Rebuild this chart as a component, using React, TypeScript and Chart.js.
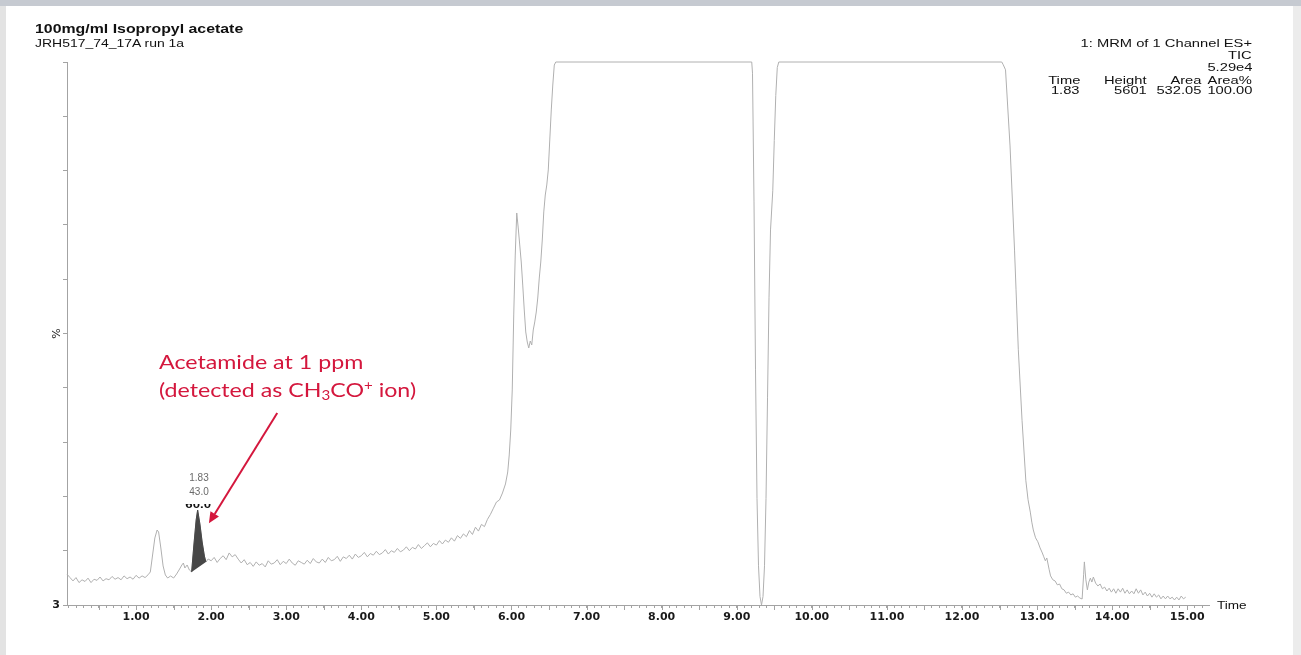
import React, { useEffect, useRef } from 'react';
import { Chart, registerables } from 'chart.js';

Chart.register(...registerables);

// ---------- texts ----------
const TITLE = '100mg/ml Isopropyl acetate';
const SUBTITLE = 'JRH517_74_17A run 1a';
const HEADER_LINES = ['1: MRM of 1 Channel ES+', 'TIC', '5.29e4'];
const TABLE_HEAD = ['Time', 'Height', 'Area', 'Area%'];
const TABLE_ROW = ['1.83', '5601', '532.05', '100.00'];
const PEAK_LABELS = ['1.83', '43.0', '60.0'];
const ANNOT_LINE1 = 'Acetamide at 1 ppm';
const X_TITLE = 'Time';
const Y_TITLE = '%';

// ---------- axes ----------
const X_MIN = 0.08;
const X_MAX = 15.29;
const Y_MIN = 3;
const Y_MAX = 100;
const xLabelledTicks = [1, 2, 3, 4, 5, 6, 7, 8, 9, 10, 11, 12, 13, 14, 15];
const yTickValues = [3, 12.7, 22.4, 32.1, 41.8, 51.5, 61.2, 70.9, 80.6, 90.3, 100];
const yLabelledTicks = [3];

// ---------- data (retention time in min, intensity in %) ----------
const times = [
  0.08, 0.12, 0.16, 0.20, 0.24, 0.28, 0.32, 0.36, 0.40, 0.44, 0.48, 0.52, 0.56, 0.60, 0.64, 0.68,
  0.72, 0.76, 0.80, 0.84, 0.88, 0.92, 0.96, 1.00, 1.04, 1.08, 1.12, 1.16, 1.19, 1.22, 1.25, 1.28,
  1.30, 1.33, 1.36, 1.39, 1.42, 1.46, 1.50, 1.54, 1.58, 1.61, 1.63, 1.65, 1.68, 1.71, 1.74, 1.77,
  1.80, 1.82, 1.85, 1.88, 1.91, 1.93, 1.96,
  2.00, 2.04, 2.08, 2.12, 2.16, 2.20, 2.24, 2.28, 2.32, 2.36, 2.40, 2.44, 2.48, 2.52, 2.56, 2.60,
  2.64, 2.68, 2.72, 2.76, 2.80, 2.84, 2.88, 2.92, 2.96, 3.00, 3.04, 3.08, 3.12, 3.16, 3.20, 3.24,
  3.28, 3.32, 3.36, 3.40, 3.44, 3.48, 3.52, 3.56, 3.60, 3.64, 3.68, 3.72, 3.76, 3.80, 3.84, 3.88,
  3.92, 3.96, 4.00, 4.04, 4.08, 4.12, 4.16, 4.20, 4.24, 4.28, 4.32, 4.36, 4.40, 4.44, 4.48, 4.52,
  4.56, 4.60, 4.64, 4.68, 4.72, 4.76, 4.80, 4.84, 4.88, 4.92, 4.96, 5.00, 5.04, 5.08, 5.12, 5.16,
  5.20, 5.24, 5.28, 5.32, 5.36, 5.40, 5.44, 5.48, 5.52, 5.56, 5.60, 5.64, 5.68, 5.72, 5.76, 5.80,
  5.84, 5.88, 5.92, 5.95, 5.97, 5.99, 6.01, 6.03, 6.05, 6.07, 6.09, 6.11, 6.13, 6.15, 6.17, 6.19,
  6.21, 6.23, 6.25, 6.27, 6.29, 6.31, 6.33, 6.35, 6.37, 6.39, 6.41, 6.43, 6.45, 6.47, 6.49, 6.51,
  6.53, 6.55, 6.57, 6.59,
  9.20, 9.21, 9.23, 9.25, 9.27, 9.29, 9.31, 9.33, 9.35, 9.37, 9.39, 9.41, 9.43, 9.45, 9.48, 9.50,
  9.52, 9.54, 9.56,
  12.53, 12.55, 12.58, 12.64, 12.70, 12.72, 12.75, 12.80, 12.85, 12.88, 12.91, 12.93, 12.95, 12.98,
  13.01, 13.04, 13.07, 13.09, 13.11, 13.13, 13.16, 13.18, 13.21, 13.24, 13.27, 13.30, 13.33, 13.36,
  13.39, 13.42, 13.45, 13.48, 13.51, 13.54, 13.57, 13.60, 13.62, 13.63, 13.65, 13.67, 13.69, 13.71,
  13.73, 13.75, 13.78, 13.81, 13.84, 13.87, 13.90, 13.93, 13.96, 13.99, 14.02, 14.05, 14.08, 14.11,
  14.14, 14.17, 14.20, 14.23, 14.26, 14.29, 14.32, 14.35, 14.38, 14.41, 14.44, 14.47, 14.50, 14.53,
  14.56, 14.59, 14.62, 14.65, 14.68, 14.71, 14.74, 14.77, 14.80, 14.83, 14.86, 14.89, 14.92, 14.95,
  14.98,
];
const signal = [
  8.5, 7.9, 7.3, 7.9, 7.0, 7.5, 7.2, 7.8, 7.0, 7.6, 7.4, 8.0, 7.3, 7.7, 7.5, 8.1,
  7.6, 7.9, 7.5, 8.2, 7.7, 8.0, 7.6, 8.3, 7.8, 8.2, 7.9, 8.4, 8.90, 11.93, 14.97, 16.40,
  16.04, 13.18, 9.97, 8.36, 7.82, 8.18, 7.82, 8.54, 9.43, 10.15, 10.50, 9.61, 10.15, 9.25, 8.90, 13.72,
  18.18, 19.97, 17.47, 14.25, 11.75, 10.68, 11.22,
  10.9, 11.5, 10.6, 11.3, 11.8, 11.1, 12.3, 11.6, 12.0, 11.2, 10.5, 11.1, 10.2, 10.6, 9.9, 10.7,
  10.1, 10.4, 9.8, 10.9, 10.3, 10.5, 11.1, 10.2, 10.8, 10.4, 11.2, 10.5, 10.1, 10.9, 10.6, 10.3,
  11.0, 10.4, 11.3, 10.7, 10.5, 11.2, 10.6, 11.5, 10.9, 11.1, 11.7, 10.8, 11.6, 11.3, 11.9, 11.2,
  12.1, 11.5, 11.8, 12.4, 11.6, 12.2, 11.9, 12.6, 12.0, 12.3, 12.9, 12.1, 12.7, 12.4, 13.1, 12.5,
  12.8, 13.4, 12.7, 13.3, 13.0, 13.8, 13.1, 13.6, 14.1, 13.4, 14.0, 13.7, 14.5, 13.9, 14.6, 14.2,
  15.0, 14.4, 15.4, 14.9, 15.7, 15.2, 16.3, 15.6, 16.9, 16.2, 17.4, 17.0, 18.3, 19.2, 20.3, 21.40,
  21.76, 23.01, 24.62, 26.76, 29.80, 34.26, 41.41, 54.81, 65.52, 73.03, 70.35, 67.31, 64.27, 60.16, 55.70, 51.77,
  49.98, 48.91, 50.16, 49.45, 52.13, 53.56, 55.34, 57.84, 61.41, 64.27, 68.20, 73.21, 76.24, 78.03, 80.71, 86.07,
  91.43, 95.89, 99.46, 100,
  100, 98, 75, 45, 22, 10, 4.5, 3.0, 4.5, 10, 22, 40, 58, 70, 77, 86,
  94, 99, 100,
  100, 99.5, 98.6, 85.0, 66.4, 59.3, 48.7, 36.0, 25.3, 21.8, 19.6, 17.8, 16.4, 15.0,
  14.3, 13.2, 12.3, 11.6, 10.9, 11.4, 9.4, 8.2, 7.5, 7.3, 6.6, 6.75, 5.9, 5.7,
  5.1, 5.3, 4.8, 5.0, 4.4, 4.6, 4.25, 4.07, 8.4, 10.7, 7.5, 5.7, 7.1, 7.8,
  7.1, 8.0, 6.9, 6.4, 6.75, 5.9, 6.2, 5.5, 6.0, 5.3, 5.9, 5.1, 5.9, 5.3,
  6.0, 5.1, 5.7, 5.0, 5.5, 5.0, 5.9, 5.1, 5.7, 4.8, 5.3, 4.6, 5.1, 4.4,
  5.0, 4.4, 4.8, 4.1, 4.6, 4.1, 4.6, 4.1, 4.4, 3.9, 4.4, 3.9, 4.6, 4.1,
  4.4,
];

// integrated peak (shaded) - curve points, closed back along its baseline
const peakTimes = [1.74, 1.77, 1.80, 1.82, 1.85, 1.88, 1.91, 1.93];
const peakSignal = [8.90, 13.72, 18.18, 19.97, 17.47, 14.25, 11.75, 10.68];

// annotation arrow, in data units [time, %]
const ARROW_FROM = [2.88, 37.3];
const ARROW_TO = [1.97, 17.6];

const RED = '#d4173d';
const AXIS_GREY = '#a3a3a3';
const TRACE_GREY = '#b0b0b0';
const ARIAL = '"Liberation Sans", Arial, Helvetica, sans-serif';
const DEJAVU = '"DejaVu Sans", sans-serif';
const W = 1301;
const H = 655;
const SX = 1.27; // horizontal stretch of the original screenshot text

type TxtProps = {
  x: number; base: number; size: number; bold?: boolean; align?: 'left' | 'right' | 'center';
  sx?: number; color?: string; family?: string; asc?: number; children: React.ReactNode;
};

function Txt({ x, base, size, bold, align = 'left', sx = 1, color = '#111', family = ARIAL, asc = 0.8465, children }: TxtProps) {
  const top = base - asc * size;
  const inner: React.CSSProperties = {
    display: 'inline-block', whiteSpace: 'nowrap', fontSize: size, lineHeight: `${size}px`,
    fontWeight: bold ? 700 : 400, color, fontFamily: family, transform: `scaleX(${sx})`,
    transformOrigin: align === 'right' ? 'right top' : align === 'center' ? 'center top' : 'left top',
  };
  const outer: React.CSSProperties = { position: 'absolute', top, display: 'flex' };
  if (align === 'left') { outer.left = x; }
  else if (align === 'right') { outer.right = W - x; }
  else { outer.left = x; outer.width = 0; outer.justifyContent = 'center'; }
  return <div style={outer}><span style={inner}>{children}</span></div>;
}

const extrasPlugin = {
  id: 'extras',
  afterDraw(chart: any) {
    const { ctx, chartArea } = chart;
    const xs = chart.scales.x;
    const ys = chart.scales.y;
    ctx.save();
    // taller ticks every 0.5 min
    ctx.strokeStyle = AXIS_GREY;
    ctx.lineWidth = 1;
    for (let i = 1; i <= 30; i++) {
      const v = i / 2;
      if (v > X_MAX) break;
      const px = Math.round(xs.getPixelForValue(v)) + 0.5;
      ctx.beginPath();
      ctx.moveTo(px, chartArea.bottom);
      ctx.lineTo(px, chartArea.bottom + 5);
      ctx.stroke();
    }
    // annotation arrow
    const x1 = xs.getPixelForValue(ARROW_FROM[0]);
    const y1 = ys.getPixelForValue(ARROW_FROM[1]);
    const x2 = xs.getPixelForValue(ARROW_TO[0]);
    const y2 = ys.getPixelForValue(ARROW_TO[1]);
    const ang = Math.atan2(y2 - y1, x2 - x1);
    const head = 11;
    const half = 5;
    const bx = x2 - head * Math.cos(ang);
    const by = y2 - head * Math.sin(ang);
    ctx.strokeStyle = RED;
    ctx.fillStyle = RED;
    ctx.lineWidth = 2;
    ctx.beginPath();
    ctx.moveTo(x1, y1);
    ctx.lineTo(bx, by);
    ctx.stroke();
    ctx.beginPath();
    ctx.moveTo(x2, y2);
    ctx.lineTo(bx + half * Math.sin(ang), by - half * Math.cos(ang));
    ctx.lineTo(bx - half * Math.sin(ang), by + half * Math.cos(ang));
    ctx.closePath();
    ctx.fill();
    ctx.restore();
  },
};

export default function App() {
  const canvasRef = useRef<HTMLCanvasElement | null>(null);

  useEffect(() => {
    const canvas = canvasRef.current;
    if (!canvas) return;
    const minorTicks: number[] = [];
    for (let i = 1; i * 0.1 <= X_MAX + 1e-9; i++) minorTicks.push(Math.round(i) / 10);

    const chart = new Chart(canvas, {
      type: 'line',
      data: {
        datasets: [
          {
            label: 'peak',
            data: peakTimes.map((t, i) => ({ x: t, y: peakSignal[i] })),
            borderColor: '#474747',
            backgroundColor: '#474747',
            borderWidth: 1,
            pointRadius: 0,
            fill: 'shape',
            tension: 0,
          } as any,
          {
            label: 'TIC',
            data: times.map((t, i) => ({ x: t, y: signal[i] })),
            borderColor: TRACE_GREY,
            borderWidth: 1,
            pointRadius: 0,
            fill: false,
            tension: 0,
            clip: 6,
          } as any,
        ],
      },
      options: {
        animation: false,
        responsive: false,
        maintainAspectRatio: false,
        events: [],
        layout: { padding: { left: 40, top: 62, right: W - 1209, bottom: 0 } },
        plugins: {
          legend: { display: false },
          tooltip: { enabled: false },
          title: { display: false },
        },
        scales: {
          x: {
            type: 'linear',
            min: X_MIN,
            max: X_MAX,
            afterBuildTicks: (axis: any) => { axis.ticks = minorTicks.map((v) => ({ value: v })); },
            afterFit: (axis: any) => { axis.height = 50; },
            grid: { drawOnChartArea: false, drawTicks: true, tickLength: 3, tickColor: AXIS_GREY, tickWidth: 1 },
            border: { display: true, color: AXIS_GREY, width: 1 },
            ticks: {
              autoSkip: false, maxRotation: 0, minRotation: 0, padding: 3, color: '#1a1a1a',
              font: { family: DEJAVU, size: 11, weight: 'bold' },
              callback: (v: any) => {
                const n = Number(v);
                return xLabelledTicks.some((m) => Math.abs(m - n) < 1e-6) ? n.toFixed(2) : '';
              },
            },
          },
          y: {
            type: 'linear',
            min: Y_MIN,
            max: Y_MAX,
            afterBuildTicks: (axis: any) => { axis.ticks = yTickValues.map((v) => ({ value: v })); },
            afterFit: (axis: any) => { axis.width = 27; },
            grid: { drawOnChartArea: false, drawTicks: true, tickLength: 4, tickColor: AXIS_GREY, tickWidth: 1 },
            border: { display: true, color: AXIS_GREY, width: 1 },
            title: {
              display: true, text: Y_TITLE, color: '#222',
              font: { family: DEJAVU, size: 11 }, padding: { top: 11, bottom: 0 },
            },
            ticks: {
              autoSkip: false, padding: 3, color: '#1a1a1a',
              font: { family: DEJAVU, size: 11, weight: 'bold' },
              callback: (v: any) => {
                const n = Number(v);
                return yLabelledTicks.some((m) => Math.abs(m - n) < 1e-6) ? String(n) : '';
              },
            },
          },
        },
      },
      plugins: [extrasPlugin],
    });
    return () => chart.destroy();
  }, []);

  const colRight = [1080, 1147, 1201, 1252];

  return (
    <div style={{ position: 'absolute', left: 0, top: 0, width: W, height: H, background: '#ffffff', overflow: 'hidden' }}>
      <canvas ref={canvasRef} width={W} height={H} style={{ position: 'absolute', left: 0, top: 0, width: W, height: H }} />
      {/* screenshot frame */}
      <div style={{ position: 'absolute', left: 0, top: 0, width: W, height: 6, background: '#c6cad1' }} />
      <div style={{ position: 'absolute', left: 0, top: 6, width: 6, height: H - 6, background: '#e3e3e3' }} />
      <div style={{ position: 'absolute', left: 1293, top: 6, width: W - 1293, height: H - 6, background: '#ececec' }} />

      <Txt x={35} base={34} size={12.5} bold sx={SX}>{TITLE}</Txt>
      <Txt x={35} base={47.5} size={11} sx={SX}>{SUBTITLE}</Txt>

      <Txt x={1252} base={47} size={11.6} align="right" sx={SX}>{HEADER_LINES[0]}</Txt>
      <Txt x={1252} base={58.5} size={11.6} align="right" sx={SX}>{HEADER_LINES[1]}</Txt>
      <Txt x={1252} base={71} size={11.6} align="right" sx={SX}>{HEADER_LINES[2]}</Txt>
      {TABLE_HEAD.map((h, i) => (
        <Txt key={'h' + i} x={colRight[i]} base={83.5} size={11.6} align="right" sx={SX}>{h}</Txt>
      ))}
      {TABLE_ROW.map((h, i) => (
        <Txt key={'r' + i} x={colRight[i]} base={93.8} size={11.6} align="right" sx={SX}>{h}</Txt>
      ))}

      <Txt x={1217} base={609.3} size={10.7} sx={SX}>{X_TITLE}</Txt>

      {/* peak labels */}
      <Txt x={199} base={481.7} size={10} align="center" color="#6a6a6a">{PEAK_LABELS[0]}</Txt>
      <Txt x={199} base={495.7} size={10} align="center" color="#6a6a6a">{PEAK_LABELS[1]}</Txt>
      <div style={{ position: 'absolute', left: 170, top: 503.5, width: 60, height: 10, overflow: 'hidden' }}>
        <div style={{ position: 'absolute', left: 0, top: -503.5 }}>
          <Txt x={28} base={509} size={11.5} bold align="center" sx={1.15} color="#111">{PEAK_LABELS[2]}</Txt>
        </div>
      </div>

      {/* annotation */}
      <Txt x={159} base={369} size={20} family='Lato, "Open Sans", sans-serif' asc={0.887} color={RED} sx={1.16}>{ANNOT_LINE1}</Txt>
      <Txt x={159} base={397} size={20} family='Lato, "Open Sans", sans-serif' asc={0.887} color={RED} sx={1.16}>
        (detected as CH<span style={{ fontSize: '0.65em', verticalAlign: '-0.25em', lineHeight: 0 }}>3</span>CO<span style={{ fontSize: '0.65em', verticalAlign: '0.55em', lineHeight: 0 }}>+</span> ion)
      </Txt>
    </div>
  );
}
